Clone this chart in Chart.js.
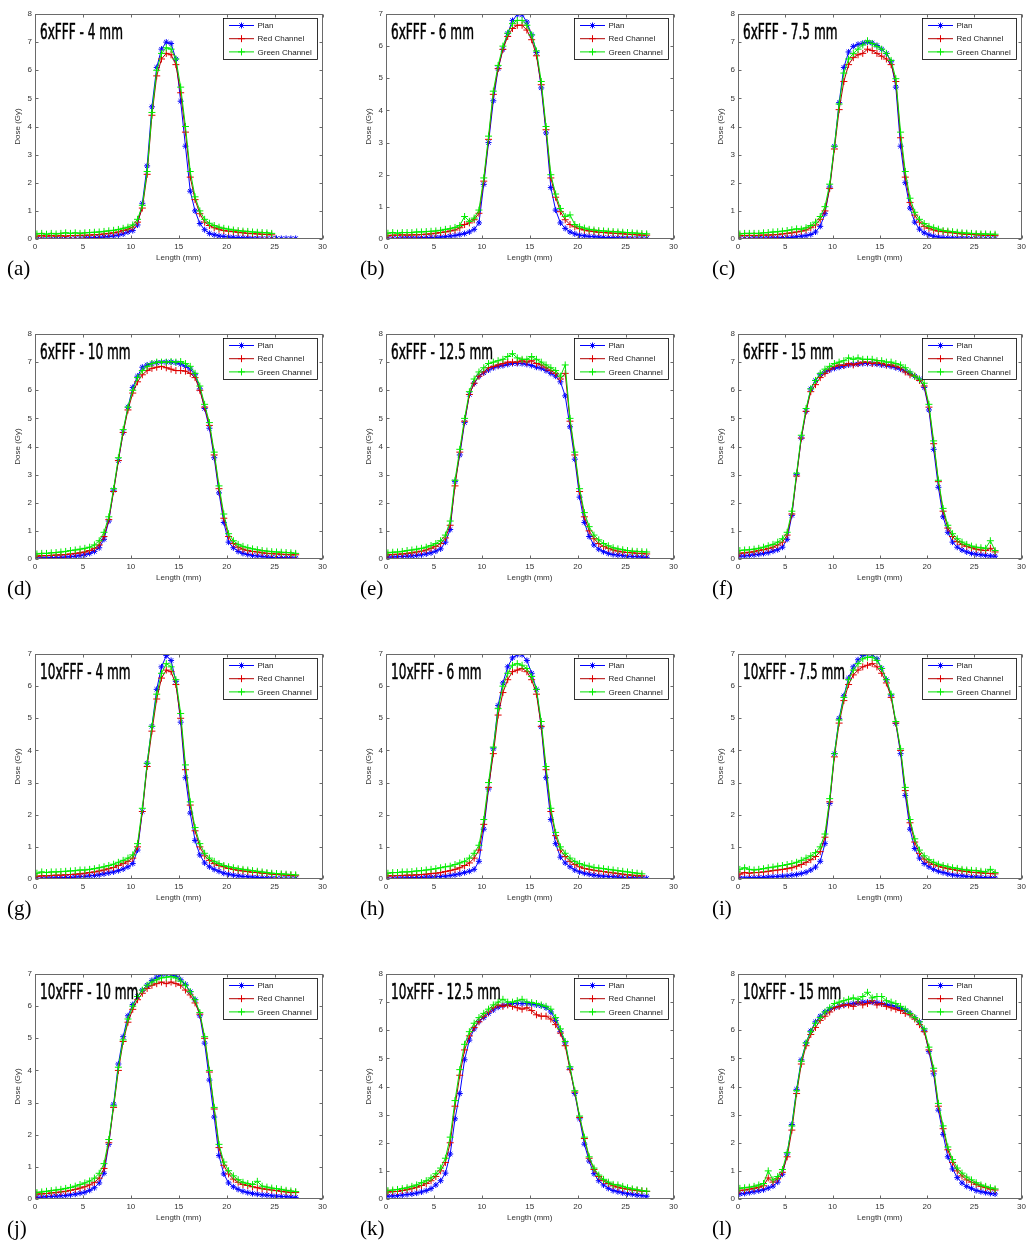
<!DOCTYPE html>
<html>
<head>
<meta charset="utf-8">
<title>Dose profiles</title>
<script src="https://cdn.jsdelivr.net/npm/chart.js@4.4.0/dist/chart.umd.min.js"></script>
<style>
  body { margin: 0; background: #fff; width: 1029px; height: 1243px; position: relative; overflow: hidden; }
  .panel { position: absolute; }
  .tag { position: absolute; font-family: "Liberation Serif", "Times New Roman", serif; font-size: 21px; line-height: 21px; color: #000; }
</style>
</head>
<body>
<script>
// positions along the film (mm), shared by every profile
const lengthMm = [0.2,0.7,1.2,1.7,2.2,2.7,3.2,3.7,4.2,4.7,5.2,5.7,6.2,6.7,7.2,7.7,8.2,8.7,9.2,9.7,
  10.2,10.7,11.2,11.7,12.2,12.7,13.2,13.7,14.2,14.7,15.2,15.7,16.2,16.7,17.2,17.7,18.2,18.7,19.2,19.7,
  20.2,20.7,21.2,21.7,22.2,22.7,23.2,23.7,24.2,24.7,25.2,25.7,26.2,26.7,27.2];

const panelTitles = ['6xFFF - 4 mm','6xFFF - 6 mm','6xFFF - 7.5 mm','6xFFF - 10 mm','6xFFF - 12.5 mm','6xFFF - 15 mm',
  '10xFFF - 4 mm','10xFFF - 6 mm','10xFFF - 7.5 mm','10xFFF - 10 mm','10xFFF - 12.5 mm','10xFFF - 15 mm'];
const panelTags = ['(a)','(b)','(c)','(d)','(e)','(f)','(g)','(h)','(i)','(j)','(k)','(l)'];
const yMaxes = [8,7,8,8,8,8,7,7,7,7,8,8];
const seriesNames = ['Plan','Red Channel','Green Channel'];

// (a) 6xFFF 4 mm
const plan_a = [0,0,0,0,0,0,0.01,0.01,0.02,0.02, 0.03,0.04,0.05,0.06,0.07,0.09,0.11,0.14,0.18,0.25, 0.3,0.5,1.27,2.6,4.7,6.1,6.75,7.0,6.95,6.4, 4.9,3.3,1.7,1.0,0.55,0.33,0.2,0.15,0.11,0.09, 0.07,0.06,0.05,0.04,0.04,0.03,0.03,0.02,0.02,0.02, 0.02,0.02,0.02,0.02,0.02];
const red_a = [0.1,0.12,0.1,0.12,0.1,0.12,0.1,0.12,0.12,0.13, 0.13,0.14,0.15,0.16,0.18,0.2,0.22,0.25,0.3,0.35, 0.42,0.6,1.1,2.3,4.4,5.8,6.4,6.6,6.55,6.2, 5.2,3.8,2.2,1.4,0.9,0.6,0.48,0.4,0.35,0.3, 0.28,0.26,0.24,0.22,0.2,0.19,0.18,0.17,0.16,0.15, null,null,null,null,null];
const green_a = [0.18,0.2,0.17,0.2,0.18,0.2,0.22,0.2,0.22,0.2, 0.22,0.23,0.24,0.25,0.27,0.29,0.31,0.34,0.38,0.42, 0.5,0.7,1.2,2.4,4.5,6.0,6.6,6.8,6.75,6.4, 5.4,4.0,2.4,1.5,1.0,0.7,0.56,0.48,0.42,0.38, 0.35,0.32,0.3,0.28,0.27,0.25,0.24,0.23,0.22,0.2, null,null,null,null,null];

// (b) 6xFFF 6 mm
const plan_b = [0.02,0.02,0.02,0.03,0.03,0.03,0.03,0.04,0.04,0.05, 0.05,0.06,0.07,0.09,0.11,0.14,0.17,0.22,0.3,0.5, 1.7,3.0,4.3,5.3,5.9,6.4,6.8,6.98,6.98,6.75, 6.35,5.8,4.7,3.3,1.6,0.9,0.5,0.33,0.22,0.16, 0.12,0.1,0.08,0.07,0.06,0.05,0.04,0.04,0.03,0.03, 0.03,0.02,0.02,0.02,0.02];
const red_b = [0.1,0.12,0.12,0.13,0.12,0.13,0.13,0.14,0.15,0.16, 0.18,0.2,0.22,0.25,0.28,0.35,0.45,0.5,0.6,0.8, 1.8,3.1,4.5,5.3,5.9,6.3,6.55,6.65,6.65,6.5, 6.2,5.7,4.8,3.4,1.9,1.3,0.85,0.6,0.45,0.38, 0.32,0.28,0.25,0.23,0.21,0.2,0.19,0.18,0.17,0.16, 0.15,0.14,0.13,0.12,0.12];
const green_b = [0.18,0.2,0.18,0.2,0.2,0.2,0.22,0.22,0.23,0.24, 0.25,0.27,0.3,0.32,0.36,0.42,0.7,0.55,0.65,0.9, 1.9,3.2,4.6,5.4,6.0,6.4,6.7,6.8,6.8,6.65, 6.35,5.85,4.9,3.5,2.0,1.4,0.95,0.7,0.75,0.45, 0.38,0.34,0.3,0.28,0.26,0.25,0.24,0.23,0.22,0.21, 0.2,0.19,0.18,0.17,0.16];

// (c) 6xFFF 7.5 mm
const plan_c = [0.02,0.02,0.02,0.03,0.03,0.03,0.03,0.04,0.04,0.05, 0.05,0.06,0.08,0.1,0.12,0.16,0.25,0.45,0.9,1.85, 3.3,4.85,6.1,6.65,6.85,6.92,6.96,7.0,6.97,6.88, 6.75,6.6,6.3,5.4,3.3,2.0,1.1,0.6,0.35,0.22, 0.15,0.1,0.07,0.05,0.04,0.04,0.03,0.03,0.03,0.02, 0.02,0.02,0.02,0.02,0.02];
const red_c = [0.12,0.12,0.13,0.12,0.13,0.14,0.14,0.15,0.16,0.18, 0.2,0.22,0.25,0.28,0.32,0.4,0.5,0.7,1.0,1.8, 3.2,4.6,5.6,6.2,6.45,6.55,6.6,6.75,6.7,6.6, 6.5,6.4,6.2,5.6,3.6,2.2,1.3,0.85,0.6,0.45, 0.38,0.32,0.28,0.26,0.24,0.22,0.2,0.18,0.17,0.16, 0.15,0.14,0.13,0.13,0.12];
const green_c = [0.18,0.2,0.2,0.2,0.2,0.22,0.23,0.25,0.26,0.28, 0.3,0.33,0.36,0.35,0.4,0.48,0.6,0.8,1.15,1.95, 3.3,4.8,5.9,6.4,6.6,6.75,6.9,7.05,6.95,6.85, 6.75,6.6,6.35,5.7,3.8,2.4,1.45,0.95,0.7,0.55, 0.45,0.4,0.35,0.3,0.28,0.26,0.24,0.22,0.21,0.2, 0.19,0.18,0.18,0.17,0.17];

// (d) 6xFFF 10 mm
const plan_d = [0.03,0.04,0.04,0.05,0.05,0.06,0.07,0.08,0.1,0.12, 0.15,0.2,0.27,0.4,0.7,1.35,2.45,3.5,4.5,5.4, 6.1,6.5,6.82,6.9,6.95,6.98,7.0,7.0,7.0,6.98, 6.93,6.85,6.75,6.55,6.05,5.35,4.65,3.6,2.35,1.3, 0.6,0.4,0.27,0.2,0.16,0.13,0.11,0.09,0.07,0.06, 0.05,0.05,0.04,0.04,0.03];
const red_d = [0.1,0.12,0.12,0.13,0.14,0.15,0.16,0.18,0.2,0.22, 0.25,0.3,0.38,0.5,0.8,1.4,2.4,3.5,4.5,5.3, 5.9,6.3,6.55,6.7,6.78,6.82,6.85,6.8,6.75,6.7, 6.7,6.68,6.6,6.45,6.0,5.4,4.75,3.7,2.5,1.45, 0.8,0.55,0.42,0.35,0.3,0.27,0.25,0.22,0.2,0.19, 0.18,0.17,0.16,0.15,0.15];
const green_d = [0.18,0.2,0.2,0.22,0.23,0.25,0.27,0.3,0.32,0.35, 0.38,0.42,0.5,0.65,0.95,1.5,2.5,3.6,4.6,5.4, 6.0,6.45,6.7,6.85,6.95,7.0,7.0,7.0,7.02,7.0, 7.02,6.95,6.85,6.6,6.15,5.5,4.85,3.8,2.6,1.6, 0.9,0.65,0.52,0.45,0.4,0.36,0.33,0.3,0.28,0.26, 0.25,0.24,0.23,0.22,0.2];

// (e) 6xFFF 12.5 mm
const plan_e = [0.07,0.07,0.08,0.09,0.1,0.11,0.13,0.15,0.18,0.22, 0.28,0.36,0.6,1.05,2.75,3.7,4.85,5.85,6.25,6.5, 6.62,6.72,6.8,6.85,6.88,6.92,6.95,6.95,6.95,6.92, 6.88,6.82,6.78,6.7,6.6,6.5,6.3,5.8,4.7,3.55, 2.2,1.3,0.8,0.5,0.35,0.26,0.2,0.16,0.14,0.12, 0.1,0.09,0.08,0.07,0.06];
const red_e = [0.15,0.16,0.17,0.18,0.2,0.22,0.25,0.28,0.32,0.38, 0.45,0.55,0.75,1.2,2.6,3.8,4.9,5.85,6.25,6.5, 6.65,6.8,6.85,6.9,6.95,7.0,7.0,7.0,7.05,7.0, 7.05,6.95,6.9,6.8,6.7,6.6,6.4,6.6,4.9,3.7, 2.4,1.5,1.0,0.72,0.55,0.45,0.38,0.32,0.28,0.25, 0.23,0.22,0.2,0.2,0.18];
const green_e = [0.22,0.24,0.25,0.27,0.3,0.32,0.35,0.38,0.42,0.48, 0.55,0.65,0.85,1.35,2.8,3.9,5.0,5.95,6.4,6.65, 6.8,6.95,7.0,7.05,7.1,7.2,7.3,7.15,7.1,7.1, 7.2,7.1,7.0,6.9,6.8,6.7,6.5,6.9,5.0,3.8, 2.5,1.65,1.15,0.85,0.68,0.55,0.47,0.4,0.36,0.33, 0.3,0.28,0.27,0.26,0.25];

// (f) 6xFFF 15 mm
const plan_f = [0.1,0.11,0.13,0.15,0.17,0.2,0.23,0.28,0.33,0.42, 0.7,1.55,3.0,4.3,5.25,6.05,6.35,6.55,6.65,6.72, 6.78,6.82,6.86,6.9,6.92,6.93,6.95,6.95,6.95,6.93, 6.9,6.88,6.85,6.8,6.75,6.68,6.6,6.5,6.4,6.1, 5.3,3.9,2.55,1.5,0.95,0.6,0.42,0.32,0.25,0.2, 0.17,0.15,0.13,0.11,0.1];
const red_f = [0.2,0.22,0.24,0.26,0.3,0.33,0.37,0.42,0.5,0.6, 0.85,1.6,2.95,4.3,5.25,5.95,6.2,6.45,6.6,6.75, 6.85,6.9,6.88,6.95,6.9,6.95,7.0,7.0,6.95,6.98, 6.95,6.9,6.9,6.85,6.8,6.65,6.55,6.5,6.35,6.15, 5.4,4.1,2.75,1.7,1.1,0.8,0.62,0.52,0.45,0.4, 0.35,0.32,0.3,0.38,0.25];
const green_f = [0.3,0.32,0.33,0.35,0.38,0.42,0.47,0.52,0.6,0.72, 0.95,1.7,3.05,4.4,5.35,6.05,6.35,6.6,6.75,6.85, 6.95,7.0,7.05,7.15,7.1,7.15,7.1,7.1,7.1,7.05, 7.05,7.0,7.0,6.95,6.9,6.8,6.65,6.5,6.4,6.25, 5.5,4.2,2.8,1.8,1.2,0.9,0.72,0.6,0.52,0.46, 0.42,0.4,0.38,0.65,0.3];

// (g) 10xFFF 4 mm
const plan_g = [0.02,0.02,0.03,0.03,0.04,0.04,0.05,0.05,0.06,0.07, 0.08,0.1,0.11,0.13,0.16,0.19,0.22,0.26,0.31,0.38, 0.48,0.9,2.1,3.6,4.75,5.9,6.6,6.95,6.8,6.15, 4.88,3.15,2.05,1.2,0.75,0.5,0.38,0.3,0.24,0.18, 0.15,0.12,0.1,0.08,0.07,0.06,0.05,0.04,0.03,0.03, 0.02,0.02,0.02,0.02,0.02];
const red_g = [0.08,0.1,0.1,0.11,0.12,0.12,0.13,0.14,0.15,0.16, 0.18,0.2,0.22,0.25,0.28,0.32,0.36,0.42,0.48,0.55, 0.65,1.0,2.1,3.5,4.6,5.6,6.25,6.5,6.45,6.05, 5.0,3.4,2.3,1.5,1.0,0.72,0.58,0.48,0.42,0.38, 0.33,0.3,0.27,0.25,0.23,0.21,0.2,0.18,0.17,0.15, 0.14,0.13,0.12,0.11,0.1];
const green_g = [0.18,0.22,0.2,0.22,0.22,0.23,0.24,0.25,0.26,0.28, 0.28,0.3,0.32,0.35,0.38,0.42,0.46,0.52,0.58,0.65, 0.75,1.1,2.2,3.6,4.75,5.75,6.4,6.7,6.6,6.2, 5.15,3.55,2.4,1.6,1.1,0.8,0.65,0.55,0.48,0.42, 0.38,0.35,0.32,0.3,0.28,0.26,0.24,0.22,0.2,0.18, 0.17,0.16,0.15,0.14,0.13];

// (h) 10xFFF 6 mm
const plan_h = [0.02,0.02,0.03,0.03,0.04,0.04,0.05,0.05,0.06,0.06, 0.07,0.08,0.09,0.11,0.13,0.16,0.2,0.24,0.3,0.55, 1.55,2.8,4.05,5.4,6.1,6.6,6.88,6.98,6.98,6.8, 6.4,5.9,4.73,3.15,1.85,1.1,0.68,0.5,0.38,0.28, 0.22,0.18,0.15,0.12,0.1,0.09,0.08,0.07,0.06,0.05, 0.04,0.04,0.03,0.03,0.02];
const red_h = [0.1,0.1,0.11,0.11,0.12,0.12,0.13,0.14,0.15,0.17, 0.18,0.2,0.23,0.26,0.3,0.35,0.42,0.5,0.65,0.9, 1.7,2.85,3.9,5.1,5.8,6.2,6.45,6.5,6.55,6.45, 6.2,5.75,4.75,3.4,2.1,1.35,0.9,0.7,0.55,0.45, 0.38,0.33,0.3,0.27,0.25,0.23,0.21,0.19,0.17,0.15, 0.13,0.12,0.1,0.1,null];
const green_h = [0.18,0.2,0.2,0.22,0.22,0.23,0.25,0.26,0.28,0.3, 0.32,0.35,0.38,0.4,0.45,0.5,0.55,0.65,0.8,1.05, 1.85,3.0,4.1,5.3,6.0,6.4,6.65,6.7,6.65,6.55, 6.3,5.9,4.9,3.5,2.2,1.45,1.0,0.8,0.65,0.55, 0.48,0.43,0.4,0.36,0.34,0.32,0.3,0.28,0.26,0.24, 0.22,0.2,0.18,0.16,null];

// (i) 10xFFF 7.5 mm
const plan_i = [0.03,0.03,0.04,0.04,0.05,0.05,0.06,0.07,0.08,0.09, 0.1,0.12,0.14,0.17,0.21,0.28,0.37,0.55,1.1,2.35, 3.9,5.0,5.7,6.25,6.6,6.82,6.95,7.0,6.98,6.85, 6.55,6.2,5.7,4.84,3.9,2.6,1.55,0.95,0.65,0.48, 0.38,0.3,0.24,0.2,0.16,0.13,0.11,0.1,0.08,0.07, 0.06,0.05,0.04,0.04,0.03];
const red_i = [0.15,0.2,0.18,0.2,0.2,0.22,0.24,0.26,0.28,0.3, 0.32,0.35,0.4,0.45,0.52,0.6,0.7,0.85,1.3,2.4, 3.8,4.85,5.55,6.05,6.35,6.5,6.6,6.65,6.7,6.6, 6.4,6.1,5.65,4.85,4.0,2.75,1.75,1.15,0.8,0.62, 0.52,0.45,0.4,0.36,0.32,0.3,0.27,0.25,0.23,0.21, 0.2,0.19,0.18,0.17,0.16];
const green_i = [0.3,0.35,0.3,0.28,0.3,0.32,0.35,0.37,0.4,0.42, 0.45,0.48,0.52,0.58,0.65,0.72,0.82,1.0,1.4,2.5, 3.9,4.95,5.65,6.2,6.5,6.7,6.85,6.9,6.9,6.8, 6.55,6.2,5.75,4.9,4.05,2.85,1.85,1.25,0.9,0.72, 0.6,0.52,0.46,0.42,0.38,0.35,0.33,0.3,0.28,0.27, 0.26,0.24,0.22,0.3,0.2];

// (j) 10xFFF 10 mm
const plan_j = [0.05,0.06,0.07,0.08,0.09,0.1,0.11,0.13,0.15,0.18, 0.21,0.27,0.35,0.5,0.8,1.7,2.95,4.2,5.05,5.7, 6.05,6.3,6.5,6.65,6.8,6.9,6.97,7.0,6.98,6.93, 6.82,6.68,6.45,6.2,5.7,4.85,3.7,2.55,1.35,0.78, 0.5,0.38,0.3,0.24,0.2,0.17,0.15,0.13,0.12,0.1, 0.09,0.08,0.07,0.06,0.05];
const red_j = [0.15,0.16,0.17,0.19,0.2,0.22,0.24,0.27,0.3,0.34, 0.38,0.44,0.52,0.65,0.95,1.75,2.85,4.0,4.9,5.5, 5.9,6.2,6.4,6.55,6.65,6.7,6.75,6.7,6.75,6.7, 6.65,6.5,6.35,6.1,5.75,5.0,3.95,2.8,1.6,1.05, 0.78,0.62,0.52,0.45,0.42,0.38,0.35,0.32,0.3,0.28, 0.26,0.24,0.22,0.2,0.2];
const green_j = [0.2,0.22,0.24,0.26,0.28,0.3,0.33,0.36,0.4,0.45, 0.5,0.56,0.65,0.8,1.1,1.85,2.9,4.1,4.95,5.6, 6.0,6.3,6.5,6.65,6.75,6.82,6.88,6.9,6.92,6.88, 6.78,6.65,6.45,6.2,5.8,5.05,4.0,2.85,1.7,1.15, 0.88,0.72,0.6,0.52,0.48,0.45,0.55,0.4,0.37,0.34, 0.32,0.3,0.27,0.25,0.23];

// (k) 10xFFF 12.5 mm
const plan_k = [0.1,0.11,0.12,0.14,0.16,0.18,0.21,0.25,0.3,0.37, 0.5,0.65,0.92,1.6,2.85,3.75,4.95,5.65,6.05,6.32, 6.45,6.6,6.72,6.82,6.88,6.92,6.95,6.95,6.95,6.95, 6.93,6.9,6.87,6.8,6.65,6.35,5.95,5.55,4.65,3.75, 2.85,1.95,1.35,0.9,0.65,0.5,0.38,0.3,0.26,0.22, 0.19,0.17,0.14,0.12,0.1];
const red_k = [0.25,0.26,0.27,0.3,0.33,0.37,0.42,0.48,0.55,0.65, 0.8,1.0,1.3,2.0,3.3,4.4,5.3,5.8,6.1,6.3, 6.5,6.65,6.8,6.9,6.85,6.9,6.85,6.8,6.75,6.8, 6.7,6.55,6.5,6.5,6.4,6.2,5.9,5.45,4.6,3.8, 2.9,2.15,1.45,1.05,0.8,0.65,0.55,0.47,0.42,0.38, 0.35,0.32,0.3,0.28,0.27];
const green_k = [0.3,0.32,0.34,0.37,0.4,0.45,0.5,0.58,0.65,0.75, 0.9,1.1,1.45,2.2,3.5,4.6,5.5,5.95,6.25,6.45, 6.6,6.75,6.9,7.0,7.1,7.0,7.0,7.05,7.1,7.0, 6.98,6.95,6.9,6.85,6.75,6.45,6.05,5.6,4.7,3.85, 2.95,2.2,1.5,1.1,0.85,0.7,0.6,0.52,0.5,0.45, 0.4,0.36,0.33,0.3,0.28];

// (l) 10xFFF 15 mm
const plan_l = [0.18,0.2,0.23,0.26,0.29,0.33,0.39,0.46,0.6,0.88, 1.6,2.65,3.9,4.95,5.55,5.98,6.3,6.5,6.65,6.75, 6.8,6.85,6.9,6.93,6.95,6.97,7.0,7.0,7.0,6.98, 6.95,6.92,6.88,6.83,6.77,6.7,6.6,6.45,6.3,6.0, 5.24,4.45,3.16,2.3,1.5,1.07,0.76,0.57,0.45,0.38, 0.3,0.26,0.23,0.2,0.18];
const red_l = [0.3,0.32,0.35,0.38,0.42,0.47,0.75,0.6,0.72,0.95, 1.5,2.45,3.75,4.8,5.45,5.85,6.1,6.35,6.5,6.65, 6.8,6.85,6.9,6.9,6.85,7.0,6.9,6.95,7.05,6.9, 6.95,6.85,6.8,6.75,6.7,6.6,6.55,6.4,6.2,5.95, 5.3,4.55,3.3,2.5,1.75,1.3,1.0,0.82,0.68,0.6, 0.52,0.45,0.4,0.35,0.32];
const green_l = [0.38,0.4,0.42,0.45,0.5,0.55,1.0,0.68,0.8,1.05, 1.65,2.6,3.85,4.9,5.55,5.95,6.25,6.45,6.65,6.8, 6.95,7.0,7.05,7.1,7.15,7.1,7.2,7.35,7.15,7.2, 7.2,7.05,7.0,6.95,6.85,6.75,6.6,6.45,6.3,6.05, 5.4,4.65,3.4,2.6,1.85,1.4,1.1,0.92,0.78,0.68, 0.58,0.5,0.45,0.4,0.36];

const planSeries = [plan_a,plan_b,plan_c,plan_d,plan_e,plan_f,plan_g,plan_h,plan_i,plan_j,plan_k,plan_l];
const redSeries = [red_a,red_b,red_c,red_d,red_e,red_f,red_g,red_h,red_i,red_j,red_k,red_l];
const greenSeries = [green_a,green_b,green_c,green_d,green_e,green_f,green_g,green_h,green_i,green_j,green_k,green_l];

const colLeft = [0, 351, 703];
const rowTop = [0, 320, 640, 960];
const AXIS_FONT = { family: '"Liberation Sans", Arial, sans-serif', size: 8 };
const TEXT_COLOR = '#333';

const styles = [
  { line: '#0000ff', marker: '#0000ff', pointStyle: 'star', radius: 3 },
  { line: '#b00000', marker: '#e00000', pointStyle: 'cross', radius: 3.5 },
  { line: '#00e000', marker: '#00ee00', pointStyle: 'cross', radius: 3.5 }
];

const toXY = arr => arr.map((v, i) => ({ x: lengthMm[i], y: v }));

// box, inward ticks, panel title and legend drawn like the MATLAB axes
const matlabAxes = {
  id: 'matlabAxes',
  afterDatasetsDraw(chart, args, opts) {
    const { ctx, chartArea: a, scales: { x, y } } = chart;
    ctx.save();
    ctx.strokeStyle = '#6a6a6a';
    ctx.lineWidth = 1;
    const L = Math.round(a.left) + 0.5, R = Math.round(a.right) - 0.5;
    const T = Math.round(a.top) + 0.5, B = Math.round(a.bottom) - 0.5;
    ctx.strokeRect(L, T, R - L, B - T);
    ctx.beginPath();
    x.ticks.forEach(t => {
      const px = Math.round(x.getPixelForValue(t.value)) + 0.5;
      ctx.moveTo(px, B); ctx.lineTo(px, B - 3);
      ctx.moveTo(px, T); ctx.lineTo(px, T + 3);
    });
    y.ticks.forEach(t => {
      const py = Math.round(y.getPixelForValue(t.value)) + 0.5;
      ctx.moveTo(L, py); ctx.lineTo(L + 3, py);
      ctx.moveTo(R, py); ctx.lineTo(R - 3, py);
    });
    ctx.stroke();

    // title inside plot, narrow lettering
    ctx.save();
    ctx.translate(a.left + 5, a.top + 25);
    ctx.scale(0.55, 1);
    ctx.font = '22px "DejaVu Sans", sans-serif';
    ctx.fillStyle = '#000';
    ctx.strokeStyle = '#000';
    ctx.lineWidth = 0.6;
    ctx.textBaseline = 'alphabetic';
    ctx.fillText(opts.title, 0, 0);
    ctx.strokeText(opts.title, 0, 0);
    ctx.restore();

    // legend
    const bw = 94, bh = 41;
    const bx = Math.round(a.right - 6 - bw) + 0.5, by = Math.round(a.top + 4) + 0.5;
    ctx.fillStyle = '#fff';
    ctx.fillRect(bx, by, bw, bh);
    ctx.strokeStyle = '#000';
    ctx.lineWidth = 0.8;
    ctx.strokeRect(bx, by, bw, bh);
    ctx.font = '8px "Liberation Sans", Arial, sans-serif';
    ctx.textBaseline = 'middle';
    seriesNames.forEach((name, i) => {
      const st = styles[i];
      const cy = by + 7 + i * 13.2;
      ctx.strokeStyle = st.line;
      ctx.lineWidth = 1;
      ctx.beginPath();
      ctx.moveTo(bx + 5.5, cy); ctx.lineTo(bx + 30.5, cy);
      ctx.stroke();
      ctx.strokeStyle = st.marker;
      ctx.fillStyle = st.marker;
      Chart.helpers.drawPoint(ctx, { pointStyle: st.pointStyle, radius: st.radius, borderWidth: 1, rotation: 0 }, bx + 18, cy);
      ctx.fillStyle = '#222';
      ctx.fillText(name, bx + 34, cy + 0.5);
    });
    ctx.restore();
  }
};

panelTitles.forEach((title, p) => {
  const col = p % 3, row = Math.floor(p / 3);
  const W = col === 2 ? 326 : 330, H = 268;

  const box = document.createElement('div');
  box.className = 'panel';
  box.style.left = colLeft[col] + 'px';
  box.style.top = rowTop[row] + 'px';
  const canvas = document.createElement('canvas');
  canvas.width = W; canvas.height = H;
  box.appendChild(canvas);
  document.body.appendChild(box);

  const tag = document.createElement('div');
  tag.className = 'tag';
  tag.textContent = panelTags[p];
  tag.style.left = (colLeft[col] + (col === 0 ? 7 : 9)) + 'px';
  tag.style.top = (rowTop[row] + 258) + 'px';
  document.body.appendChild(tag);

  const values = [planSeries[p], redSeries[p], greenSeries[p]];
  const datasets = values.map((vals, i) => ({
    label: seriesNames[i],
    data: toXY(vals),
    borderColor: styles[i].line,
    borderWidth: 1,
    pointStyle: styles[i].pointStyle,
    pointRadius: styles[i].radius,
    pointBorderColor: styles[i].marker,
    pointBackgroundColor: styles[i].marker,
    pointBorderWidth: 1,
    tension: 0,
    order: 3 - i
  }));

  new Chart(canvas.getContext('2d'), {
    type: 'line',
    data: { datasets },
    options: {
      responsive: false,
      animation: false,
      layout: { padding: { top: 14, left: 0, bottom: 0, right: W - 322.5 } },
      plugins: {
        legend: { display: false },
        tooltip: { enabled: false },
        matlabAxes: { title }
      },
      scales: {
        x: {
          type: 'linear', min: 0, max: 30,
          afterFit: s => { s.height = H - 239; },
          grid: { display: false, drawTicks: false },
          border: { display: false },
          ticks: { stepSize: 5, padding: 3, maxRotation: 0, font: AXIS_FONT, color: TEXT_COLOR },
          title: { display: true, text: 'Length (mm)', font: AXIS_FONT, color: TEXT_COLOR, padding: { top: 0, bottom: 5 } }
        },
        y: {
          min: 0, max: yMaxes[p],
          afterFit: s => { s.width = 35; },
          grid: { display: false, drawTicks: false },
          border: { display: false },
          ticks: { stepSize: 1, padding: 3, font: AXIS_FONT, color: TEXT_COLOR },
          title: { display: true, text: 'Dose (Gy)', font: AXIS_FONT, color: TEXT_COLOR, padding: { top: 13, bottom: 0 } }
        }
      }
    },
    plugins: [matlabAxes]
  });
});
</script>
</body>
</html>
